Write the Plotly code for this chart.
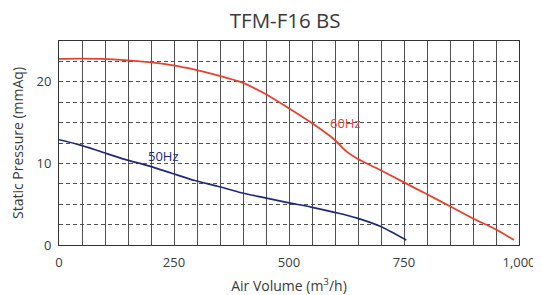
import plotly.graph_objects as go

# 60Hz curve
x_60 = [0, 43, 93, 143, 195, 245, 295, 345, 396, 446, 497, 548, 599, 624, 648, 698, 749, 799, 850, 900, 950, 989]
y_60 = [22.8, 22.85, 22.8, 22.65, 22.4, 22.05, 21.5, 20.8, 19.95, 18.6, 16.85, 15.0, 12.9, 11.5, 10.6, 9.2, 7.7, 6.25, 4.75, 3.25, 1.9, 0.6]

# 50Hz curve
x_50 = [0, 43, 93, 143, 195, 245, 295, 345, 396, 446, 497, 548, 599, 648, 698, 755]
y_50 = [12.9, 12.3, 11.4, 10.5, 9.7, 8.8, 7.9, 7.2, 6.4, 5.8, 5.2, 4.65, 4.0, 3.3, 2.3, 0.6]

x_ticks = [0, 250, 500, 750, 1000]
x_tick_labels = ["0", "250", "500", "750", "1,000"]
y_ticks = [0, 10, 20]
y_tick_labels = ["0", "10", "20"]

title_text = "TFM-F16 BS"
x_title = "Air Volume (m<sup>3</sup>/h)"
y_title = "Static Pressure (mmAq)"

RED = "#e8402f"
BLUE = "#1e2a78"
GRID = "#505050"
TXT = "#3a3a3a"
FONT = "Open Sans"

fig = go.Figure()
fig.add_trace(go.Scatter(x=x_60, y=y_60, mode="lines", line=dict(color=RED, width=1.8, shape="spline", smoothing=0.8), hoverinfo="skip"))
fig.add_trace(go.Scatter(x=x_50, y=y_50, mode="lines", line=dict(color=BLUE, width=1.7, shape="spline", smoothing=0.8), hoverinfo="skip"))

fig.add_annotation(x=623, y=15.0, text="60Hz", showarrow=False, font=dict(color=RED, size=13, family=FONT))
fig.add_annotation(x=227, y=10.9, text="50Hz", showarrow=False, font=dict(color=BLUE, size=13, family=FONT))

# page body has an 8px margin, so the figure is 8px smaller and margins compensate
fig.update_layout(
    width=533, height=287,
    margin=dict(l=51, r=22, t=33, b=50, autoexpand=False),
    paper_bgcolor="white", plot_bgcolor="white",
    showlegend=False,
    font=dict(family=FONT, color=TXT, size=13),
    title=dict(text=title_text, x=0.52, xref="container", xanchor="center",
               y=0.954, yref="container", yanchor="middle",
               font=dict(size=20.5, color=TXT, family=FONT)),
)
fig.update_xaxes(
    range=[0, 1000], tickvals=x_ticks, ticktext=x_tick_labels,
    showgrid=True, gridcolor=GRID, gridwidth=1,
    minor=dict(dtick=50, tick0=0, showgrid=True, gridcolor=GRID, gridwidth=1),
    showline=True, linecolor="#333", linewidth=1, mirror=True,
    ticks="", zeroline=False, automargin=False, ticklabelstandoff=5,
    title=dict(text=x_title, font=dict(size=14, color=TXT), standoff=11),
    tickfont=dict(size=13, color=TXT),
)
fig.update_yaxes(
    range=[0, 25], tickvals=y_ticks, ticktext=y_tick_labels,
    showgrid=True, gridcolor=GRID, gridwidth=1, griddash="4px,3px",
    minor=dict(dtick=2.5, tick0=0, showgrid=True, gridcolor=GRID, gridwidth=1, griddash="4px,3px"),
    showline=True, linecolor="#333", linewidth=1, mirror=True,
    ticks="", zeroline=False, automargin=False, ticklabelstandoff=4,
    title=dict(text=y_title, font=dict(size=14, color=TXT), standoff=14),
    tickfont=dict(size=13, color=TXT),
)

fig.write_html("out.html")
